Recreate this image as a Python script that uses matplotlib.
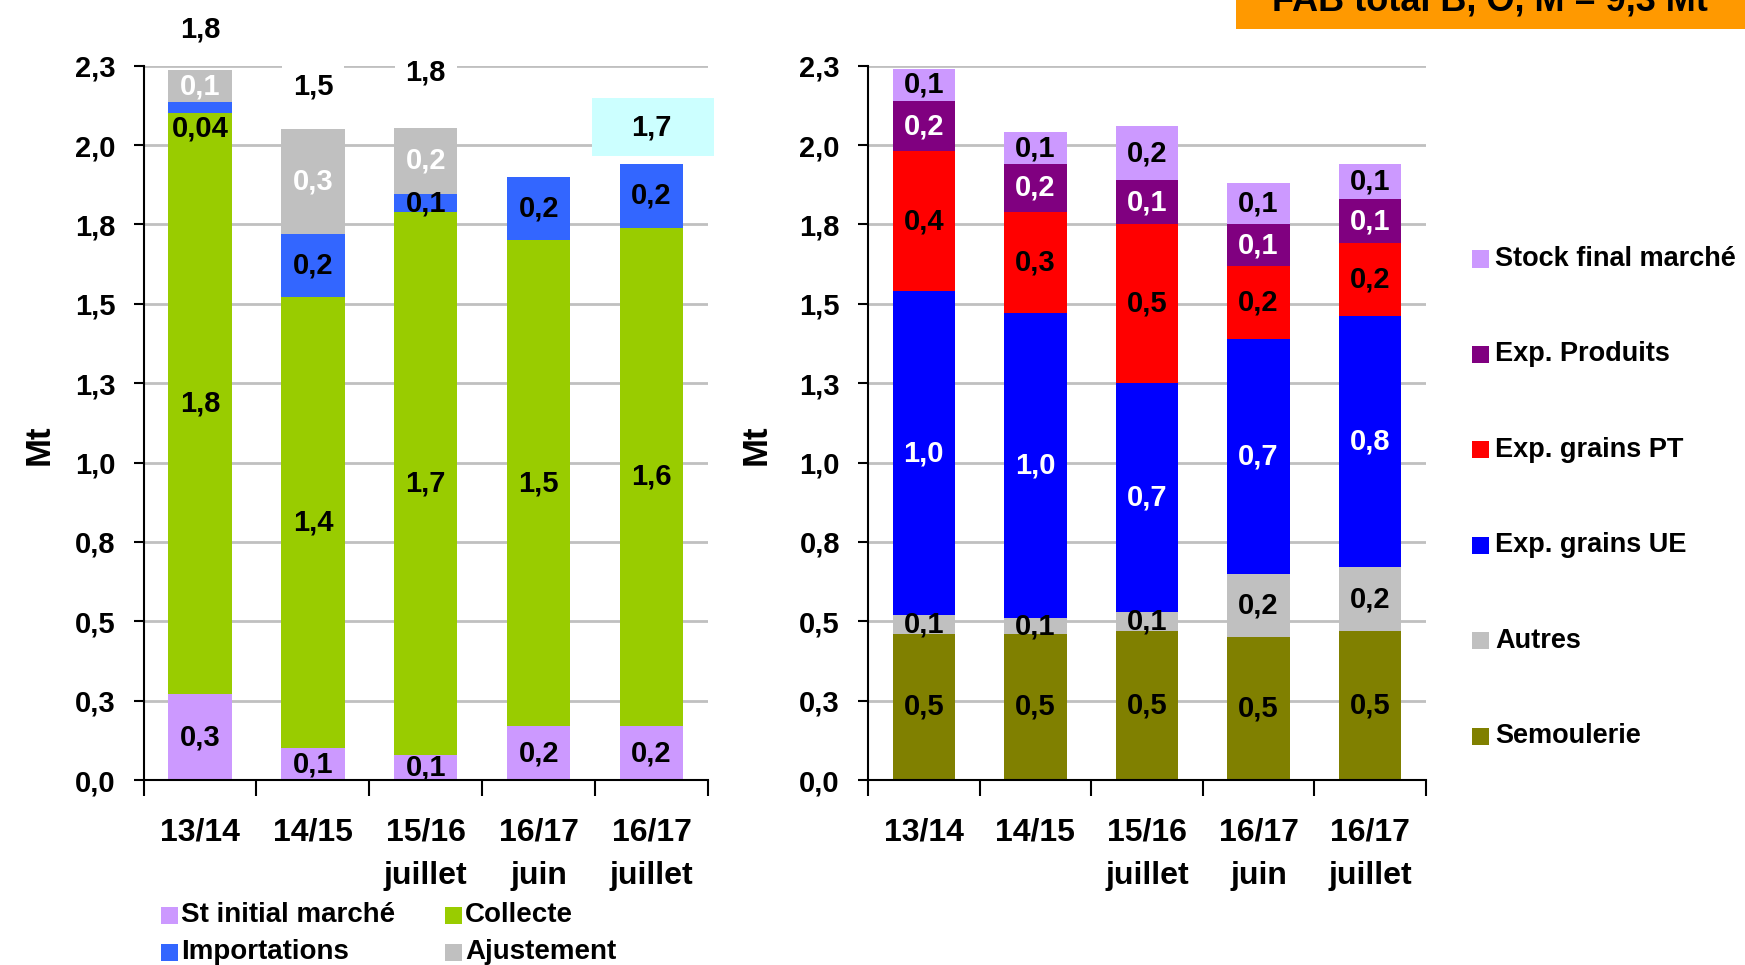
import matplotlib
matplotlib.use("Agg")
import matplotlib.pyplot as plt
from matplotlib.patches import Rectangle
import numpy as np

plt.rcParams['font.family'] = ['Liberation Sans', 'DejaVu Sans']
plt.rcParams['font.weight'] = 'bold'

categories = ["13/14", "14/15", "15/16\njuillet", "16/17\njuin", "16/17\njuillet"]
yticks = [0, 0.25, 0.5, 0.75, 1.0, 1.25, 1.5, 1.75, 2.0, 2.25]
ytick_labels = ["0,0", "0,3", "0,5", "0,8", "1,0", "1,3", "1,5", "1,8", "2,0", "2,3"]

# Left chart: resources
st_initial = [0.27, 0.10, 0.08, 0.17, 0.17]
collecte = [1.83, 1.42, 1.71, 1.53, 1.57]
importations = [0.035, 0.20, 0.055, 0.20, 0.20]
ajustement = [0.10, 0.33, 0.21, 0.0, 0.0]
st_initial_lbl = ["0,3", "0,1", "0,1", "0,2", "0,2"]
collecte_lbl = ["1,8", "1,4", "1,7", "1,5", "1,6"]
importations_lbl = ["0,04", "0,2", "0,1", "0,2", "0,2"]
ajustement_lbl = ["0,1", "0,3", "0,2", "", ""]
top_lbl = ["1,8", "1,5", "1,8", "", "1,7"]

# Right chart: uses
semoulerie = [0.46, 0.46, 0.47, 0.45, 0.47]
autres = [0.06, 0.05, 0.06, 0.20, 0.20]
exp_ue = [1.02, 0.96, 0.72, 0.74, 0.79]
exp_pt = [0.44, 0.32, 0.50, 0.23, 0.23]
exp_produits = [0.16, 0.15, 0.14, 0.13, 0.14]
stock_final = [0.10, 0.10, 0.17, 0.13, 0.11]
semoulerie_lbl = ["0,5", "0,5", "0,5", "0,5", "0,5"]
autres_lbl = ["0,1", "0,1", "0,1", "0,2", "0,2"]
exp_ue_lbl = ["1,0", "1,0", "0,7", "0,7", "0,8"]
exp_pt_lbl = ["0,4", "0,3", "0,5", "0,2", "0,2"]
exp_produits_lbl = ["0,2", "0,2", "0,1", "0,1", "0,1"]
stock_final_lbl = ["0,1", "0,1", "0,2", "0,1", "0,1"]

# label placement offsets above bar tops (style, not data)
top_offsets = [0.13, 0.135, 0.175, 0.0, 0.115]

W, H = 1745, 965
fig = plt.figure(figsize=(W / 100, H / 100), dpi=100)

def axrect(x0, x1, ybot, ytop):
    return [x0 / W, (H - ybot) / H, (x1 - x0) / W, (ybot - ytop) / H]

axL = fig.add_axes(axrect(143.6, 708, 780, 65.7))
axR = fig.add_axes(axrect(868, 1426, 780, 65.7))

x = np.arange(len(categories))
bw = 0.56

def style_axis(ax, labx):
    ax.set_xlim(-0.5, len(categories) - 0.5)
    ax.set_ylim(0, 2.25)
    ax.set_yticks(yticks)
    ax.set_yticklabels(ytick_labels, fontsize=21, fontweight='bold')
    ax.set_xticks(x)
    ax.set_xticklabels(categories, fontsize=23, fontweight='bold', linespacing=1.6)
    ax.set_xticks(np.arange(-0.5, len(categories), 1.0), minor=True)
    ax.tick_params(axis='x', which='major', length=0, pad=27)
    ax.tick_params(axis='x', which='minor', length=11.5, width=1.5, direction='out')
    ax.tick_params(axis='y', length=7.2, width=1.5, direction='out', pad=13)
    for s in ['top', 'right']:
        ax.spines[s].set_visible(False)
    for s in ['left', 'bottom']:
        ax.spines[s].set_linewidth(1.5)
    ax.yaxis.grid(True, color='#c0c0c0', linewidth=2)
    ax.set_axisbelow(True)
    ax.set_ylabel("Mt", fontsize=25, fontweight='bold')
    ax.yaxis.set_label_coords(labx, 0.47)

def stack(ax, series, colors, labels, lcolors):
    bottom = np.zeros(len(categories))
    for vals, col, lbls, lc in zip(series, colors, labels, lcolors):
        vals = np.array(vals, dtype=float)
        ax.bar(x, vals, bw, bottom=bottom, color=col, zorder=2)
        for i, (v, t) in enumerate(zip(vals, lbls)):
            if not t:
                continue
            if v < 0.045:
                ax.text(x[i], bottom[i] - 0.005, t, ha='center', va='top', fontsize=21,
                        fontweight='bold', color=lc, zorder=4)
            else:
                ax.text(x[i], bottom[i] + v / 2, t, ha='center', va='center', fontsize=21,
                        fontweight='bold', color=lc, zorder=4)
        bottom = bottom + vals
    return bottom

style_axis(axL, -0.155)
style_axis(axR, -0.171)

topL = stack(axL, [st_initial, collecte, importations, ajustement],
             ['#CC99FF', '#99CC00', '#3366FF', '#C0C0C0'],
             [st_initial_lbl, collecte_lbl, importations_lbl, ajustement_lbl],
             ['black', 'black', 'black', 'white'])

for i, t in enumerate(top_lbl):
    if not t:
        continue
    if i == len(top_lbl) - 1:
        axL.text(x[i], topL[i] + top_offsets[i], t, ha='center', va='center', fontsize=21,
                 fontweight='bold', color='black', zorder=5, clip_on=False)
        axL.add_patch(Rectangle((x[i] - 0.53, topL[i] + 0.027), 1.08, 0.18,
                                facecolor='#CCFFFF', edgecolor='none', zorder=3, clip_on=False))
    else:
        axL.text(x[i], topL[i] + top_offsets[i], t, ha='center', va='center', fontsize=21,
                 fontweight='bold', color='black', zorder=5, clip_on=False,
                 bbox=dict(facecolor='white', edgecolor='none', pad=8) if i > 0 else None)

stack(axR, [semoulerie, autres, exp_ue, exp_pt, exp_produits, stock_final],
      ['#808000', '#C0C0C0', '#0000FF', '#FF0000', '#800080', '#CC99FF'],
      [semoulerie_lbl, autres_lbl, exp_ue_lbl, exp_pt_lbl, exp_produits_lbl, stock_final_lbl],
      ['black', 'black', 'white', 'black', 'white', 'black'])

# Bottom legend (left chart)
def fig_patch(px, py, col, size=17):
    fig.patches.append(Rectangle((px / W, (H - py - size / 2) / H), size / W, size / H,
                                 facecolor=col, edgecolor='none', transform=fig.transFigure))

left_leg = [("St initial marché", '#CC99FF', 161, 915), ("Collecte", '#99CC00', 445, 915),
            ("Importations", '#3366FF', 161, 952), ("Ajustement", '#C0C0C0', 445, 952)]
for name, col, px, py in left_leg:
    fig_patch(px, py, col)
    fig.text((px + 20) / W, (H - py) / H, name, fontsize=20, fontweight='bold',
             va='center', ha='left')

right_leg = [("Stock final marché", '#CC99FF'), ("Exp. Produits", '#800080'),
             ("Exp. grains PT", '#FF0000'), ("Exp. grains UE", '#0000FF'),
             ("Autres", '#C0C0C0'), ("Semoulerie", '#808000')]
for k, (name, col) in enumerate(right_leg):
    py = 259 + k * 95.4
    fig_patch(1472, py, col)
    fig.text(1495 / W, (H - py) / H, name, fontsize=19.5, fontweight='bold',
             va='center', ha='left')

# Orange header box
fig.patches.append(Rectangle((1236 / W, (H - 29) / H), (W - 1236) / W, 29 / H + 0.01,
                             facecolor='#FF9900', edgecolor='none', transform=fig.transFigure))
fig.text(1490 / W, (H - 10.5) / H, "FAB total B, O, M = 9,3 Mt", fontsize=26,
         fontweight='bold', ha='center', va='baseline')

fig.savefig("out.png", dpi=100)
